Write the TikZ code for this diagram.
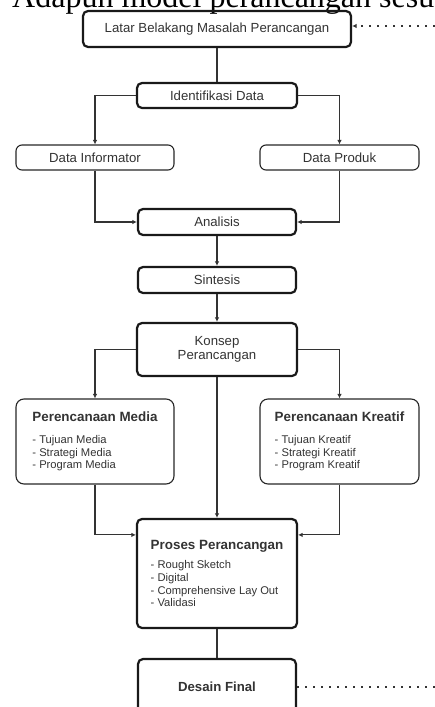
\documentclass[tikz,border=0pt]{standalone}
\usepackage{fontspec}
\setmainfont{Liberation Sans}
\newfontfamily\timesfont{Liberation Serif}
\usetikzlibrary{arrows.meta}
\tikzset{
headbox/.style={draw=black!90, line width=2.2pt, rounded corners=5pt, inner sep=0pt,
  align=center, text=black!80, font=\fontsize{13.2}{14}\selectfont},
databox/.style={draw=black!85, line width=1.1pt, rounded corners=6pt, inner sep=0pt,
  text=black!80, font=\fontsize{13.2}{14}\selectfont},
planbox/.style={draw=black!85, line width=1.1pt, rounded corners=8pt, inner sep=0pt,
  align=left, text=black!80, font=\fontsize{11.2}{12.7}\selectfont},
flow/.style={draw=black!80, line width=1.1pt, -{Latex[length=4.5pt,width=4.5pt]}},
plainlink/.style={draw=black!80, line width=1.1pt},
backloop/.style={draw=black!80, line width=1.1pt, dash pattern=on 2pt off 6pt}
}

\begin{document}
\begin{tikzpicture}[x=1pt, y=-1pt]
  \clip (0,0) rectangle (435,707);
  \node[anchor=base west, inner sep=0pt, font=\timesfont\fontsize{32}{36}\selectfont]
    (intro) at (12,7.3) {Adapun model perancangan sesua};

  \node[headbox, minimum width=268pt, minimum height=36pt] (latar) at (217,29) {Latar Belakang Masalah Perancangan};
  \node[headbox, minimum width=160pt, minimum height=25pt] (ident) at (217,95.5) {Identifikasi Data};
  \node[databox, minimum width=158pt, minimum height=25pt] (info) at (95,157.5) {Data Informator};
  \node[databox, minimum width=159pt, minimum height=25pt] (produk) at (339.5,157.5) {Data Produk};
  \node[headbox, minimum width=158pt, minimum height=26pt] (analisis) at (217,222) {Analisis};
  \node[headbox, minimum width=158pt, minimum height=26pt] (sintesis) at (217,280) {Sintesis};
  \node[headbox, minimum width=160pt, minimum height=53pt] (konsep) at (217,349.5) {Konsep\\Perancangan};
  \node[planbox, minimum width=158pt, minimum height=85pt] (media) at (95,441.5)
    {{\fontsize{13.4}{16}\selectfont\bfseries Perencanaan Media}\\[9pt]
     - Tujuan Media\\- Strategi Media\\- Program Media};
  \node[planbox, minimum width=159pt, minimum height=85pt] (kreatif) at (339.5,441.5)
    {{\fontsize{13.4}{16}\selectfont\bfseries Perencanaan Kreatif}\\[9pt]
     - Tujuan Kreatif\\- Strategi Kreatif\\- Program Kreatif};
  \node[headbox, align=left, font=\fontsize{11.2}{12.7}\selectfont,
    minimum width=160pt, minimum height=109pt] (proses) at (217,573.5)
    {{\fontsize{13.4}{16}\selectfont\bfseries Proses Perancangan}\\[7pt]
     - Rought Sketch\\- Digital\\- Comprehensive Lay Out\\- Validasi};
  \node[headbox, font=\bfseries\fontsize{13.2}{14}\selectfont,
    minimum width=158pt, minimum height=56pt] (desain) at (217,687) {Desain Final};

  \coordinate (backin) at (435,26);
  \coordinate (backout) at (435,687);

  \draw[plainlink] (latar) -- (ident);
  \draw[flow] (ident.west) -| (info.north);
  \draw[flow] (ident.east) -| (produk.north);
  \draw[flow] (info.south) |- (analisis.west);
  \draw[flow] (produk.south) |- (analisis.east);
  \draw[flow] (analisis) -- (sintesis);
  \draw[flow] (sintesis) -- (konsep);
  \draw[flow] (konsep.west) -| (media.north);
  \draw[flow] (konsep.east) -| (kreatif.north);
  \draw[flow] (konsep) -- (proses);
  \draw[flow] (media.south) |- ([yshift=-17pt]proses.north west);
  \draw[flow] (kreatif.south) |- ([yshift=-17pt]proses.north east);
  \draw[plainlink] (proses) -- (desain);
  \draw[backloop, -{Latex[length=4.5pt,width=4.5pt]}] (backin) -- (backin -| latar.east);
  \draw[backloop] (desain.east) -- (backout);
\end{tikzpicture}
\end{document}
